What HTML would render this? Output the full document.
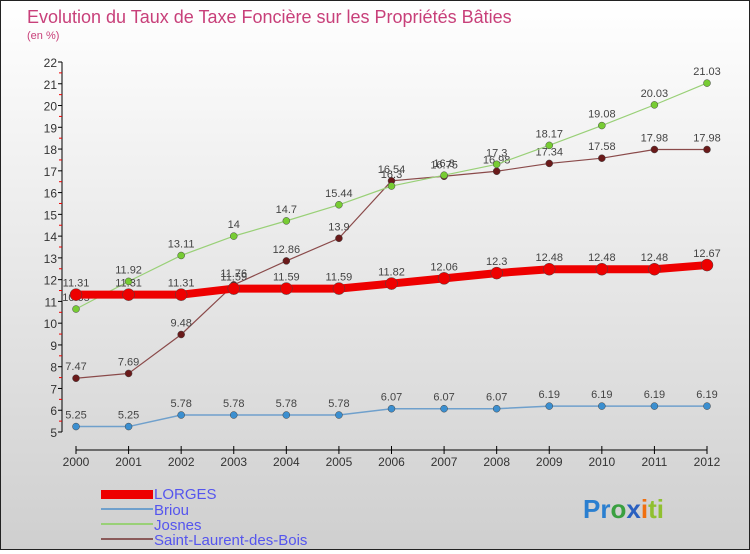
<!DOCTYPE html>
<html><head><meta charset="utf-8"><style>
body{margin:0;width:750px;height:550px;overflow:hidden;font-family:"Liberation Sans",sans-serif}
#c{position:relative;width:748px;height:548px;border:1px solid #222;background:linear-gradient(#fff,#cfcfcf)}
</style></head><body>
<div id="c">
<svg id="s" width="748" height="548" xmlns="http://www.w3.org/2000/svg">
<text x="26" y="22" font-size="18" fill="#c8407a">Evolution du Taux de Taxe Foncière sur les Propriétés Bâties</text>
<text x="26" y="38" font-size="11" fill="#c8407a">(en %)</text>
<g id="axes"></g><g id="series"></g>
<g font-size="15" fill="#5555ee">
<rect x="100" y="489" width="52" height="9" fill="#ee0000"/>
<text x="153" y="498">LORGES</text>
<rect x="100" y="507" width="52" height="2" fill="#6fa0cc"/>
<text x="153" y="514">Briou</text>
<rect x="100" y="522" width="52" height="2" fill="#99d077"/>
<text x="153" y="529">Josnes</text>
<rect x="100" y="537" width="52" height="2" fill="#8a5a5a"/>
<text x="153" y="544">Saint-Laurent-des-Bois</text>
</g>
<text x="582" y="517" font-size="26" font-weight="bold"><tspan fill="#2a7fd0">Pr</tspan><tspan fill="#3aa040">o</tspan><tspan fill="#2a60c0">x</tspan><tspan fill="#f07010">i</tspan><tspan fill="#90c030">ti</tspan></text>
</svg></div>
<script>
const years=[2000,2001,2002,2003,2004,2005,2006,2007,2008,2009,2010,2011,2012];
const lorges=[11.31,11.31,11.31,11.59,11.59,11.59,11.82,12.06,12.3,12.48,12.48,12.48,12.67];
const briou=[5.25,5.25,5.78,5.78,5.78,5.78,6.07,6.07,6.07,6.19,6.19,6.19,6.19];
const josnes=[10.65,11.92,13.11,14,14.7,15.44,16.3,16.8,17.3,18.17,19.08,20.03,21.03];
const slb=[7.47,7.69,9.48,11.76,12.86,13.9,16.54,16.75,16.98,17.34,17.58,17.98,17.98];
const yTicks=[5,6,7,8,9,10,11,12,13,14,15,16,17,18,19,20,21,22];
const NS="http://www.w3.org/2000/svg";
const X=i=>75+i*(631/(years.length-1));
const Y=v=>431-(v-5)*(370/17);
function mk(t,a,p){const e=document.createElementNS(NS,t);for(const k in a)e.setAttribute(k,a[k]);p.appendChild(e);return e;}
const ax=document.getElementById('axes');
const yl=mk('line',{x1:61,y1:Y(22),x2:61,y2:Y(5),stroke:'#000'},ax);


yTicks.forEach(v=>{
 mk('line',{x1:57,x2:61,y1:Y(v),y2:Y(v),stroke:'#000'},ax);
 if(v<22)mk('line',{x1:58,x2:61,y1:Y(v+0.5),y2:Y(v+0.5),stroke:'#e00'},ax);
 const t=mk('text',{x:56,y:Y(v)+5,'text-anchor':'end','font-size':12,fill:'#333'},ax);t.textContent=v;
 
 
});
const xl=mk('line',{x1:X(0),x2:X(12),y1:449,y2:449,stroke:'#000'},ax);


years.forEach((y,i)=>{
 mk('line',{x1:X(i),x2:X(i),y1:445,y2:453,stroke:'#000'},ax);
 const t=mk('text',{x:X(i),y:465,'text-anchor':'middle','font-size':12,fill:'#333'},ax);t.textContent=y;
 
 
});
const sg=document.getElementById('series');
function series(d,name,col,w,r,dot){
 const g=mk('g',{},sg);
 
 
 mk('polyline',{points:d.map((v,i)=>X(i)+','+Y(v)).join(' '),fill:'none',stroke:col,'stroke-width':w},g);
 d.forEach((v,i)=>{
  const c=mk('circle',{cx:X(i),cy:Y(v),r:r,fill:dot,stroke:'#444','stroke-width':0.5},g);
  
  
  const t=mk('text',{x:X(i),y:Y(v)-8,'text-anchor':'middle','font-size':11,fill:'#444'},g);t.textContent=v;
  
  
 });
}
series(briou,'briou','#6fa0cc',1.5,3.5,'#3b8fd0');
series(slb,'saint-laurent','#8a4a4a',1.2,3.5,'#6a1a1a');
series(josnes,'josnes','#99d077',1.2,3.5,'#77cc33');
series(lorges,'lorges','#ee0000',8,6,'#ee0000');
</script>
</body></html>
